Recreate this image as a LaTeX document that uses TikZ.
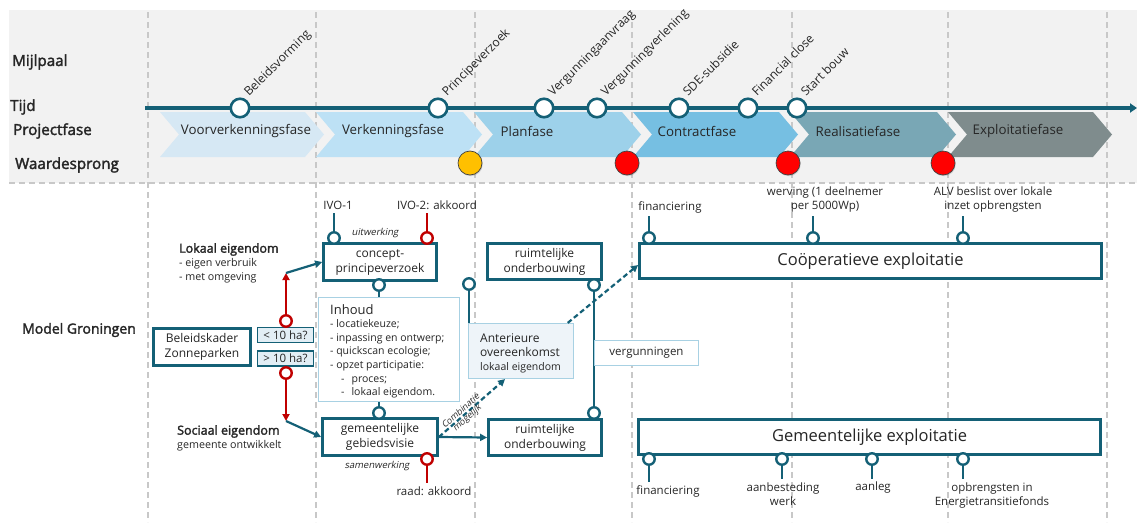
\documentclass[tikz,border=0pt]{standalone}
\usepackage{fontspec}
\setmainfont{Open Sans}[AutoFakeBold=2.2,AutoFakeSlant=0.2]
\usetikzlibrary{arrows.meta,calc,shadows}

\definecolor{tealdk}{RGB}{20,96,118}
\definecolor{redpin}{RGB}{192,0,0}
\definecolor{bandgray}{RGB}{242,242,242}
\definecolor{guidegray}{RGB}{200,200,200}
\definecolor{noteblue}{RGB}{168,209,227}
\definecolor{notefill}{RGB}{238,244,249}
\definecolor{hafill}{RGB}{226,238,245}
\definecolor{phaseA}{RGB}{214,232,244}
\definecolor{phaseB}{RGB}{189,225,245}
\definecolor{phaseC}{RGB}{157,209,234}
\definecolor{phaseD}{RGB}{118,191,226}
\definecolor{phaseE}{RGB}{121,167,181}
\definecolor{phaseF}{RGB}{127,140,141}
\definecolor{jumpyellow}{RGB}{255,192,0}
\definecolor{jumpred}{RGB}{255,0,0}
\definecolor{ink}{RGB}{38,38,38}

\newcommand\fsz[2]{\fontsize{#1pt}{#2pt}\selectfont}
% chevron of a project phase: left x, right x, colour
\newcommand\phasechevron[3]{%
  \fill[#3] (#1,112) -- (#2,112) -- ({#2+19},134.5) -- (#2,157) -- (#1,157) -- ({#1+19},134.5) -- cycle;}

\begin{document}
\begin{tikzpicture}[x=1pt,y=-1pt,
  every node/.style={text=ink},
  guide/.style={draw=guidegray,line width=1.1pt,dash pattern=on 6pt off 4pt},
  heading/.style={anchor=west,font=\fsz{15.2}{17}\bfseries,inner sep=0},
  phasetext/.style={font=\fsz{13.3}{15},inner sep=0},
  mstone/.style={circle,draw=tealdk,fill=white,line width=2.6pt,minimum size=18.5pt,inner sep=0},
  mlabel/.style={rotate=45,anchor=base west,inner sep=0,font=\fsz{12.1}{14}},
  jump/.style={circle,draw=black!75,line width=0.7pt,minimum size=24pt,inner sep=0,
    drop shadow={shadow xshift=0.8pt,shadow yshift=-1.2pt,opacity=0.3}},
  tbox/.style={draw=tealdk,line width=2.8pt,fill=white,align=center,inner sep=0,font=\fsz{12}{15}},
  habox/.style={draw=tealdk,line width=1.2pt,fill=hafill,minimum width=56pt,minimum height=15pt,inner sep=0,font=\fsz{11.5}{13}},
  note/.style={draw=noteblue,line width=1.2pt,fill=white,inner sep=0},
  knob/.style={circle,draw=tealdk,fill=white,line width=2.4pt,minimum size=11.5pt,inner sep=0},
  rknob/.style={knob,draw=redpin},
  link/.style={draw=tealdk,line width=2.2pt},
  rlink/.style={draw=redpin,line width=2.2pt},
  dlink/.style={link,dash pattern=on 5pt off 3pt},
  arr/.style={-{Triangle[length=7pt,width=7pt]}},
  plabel/.style={font=\fsz{11.5}{14.5},align=center,inner sep=3.5pt},
  tag/.style={font=\fsz{9.5}{11}\itshape,inner sep=0}
]
\useasboundingbox (0,0) rectangle (1137,522);

% grey band with milestones and phases
\fill[bandgray] (9,10) rectangle (1137,183);
\foreach \gx in {148,316,475,632,792,948,1107}
  \draw[guide] (\gx,12) -- (\gx,522);
\draw[guide] (9,183) -- (1137,183);

% row headings
\node[heading] (hmijl) at (12,62) {Mijlpaal};
\node[heading] (htijd) at (10,107) {Tijd};
\node[heading] (hfase) at (13,131) {Projectfase};
\node[heading] (hwaarde) at (15,165) {Waardesprong};
\node[heading,font=\fsz{14}{16}\bfseries] (hmodel) at (22,330) {Model Groningen};

% project phases
\phasechevron{160}{305}{phaseA}
\phasechevron{316}{463}{phaseB}
\phasechevron{474}{622}{phaseC}
\phasechevron{633}{779}{phaseD}
\phasechevron{790}{937}{phaseE}
\phasechevron{948}{1093}{phaseF}
\node[phasetext] (fase1) at (246,131) {Voorverkenningsfase};
\node[phasetext] (fase2) at (393,131) {Verkenningsfase};
\node[phasetext] (fase3) at (527,131) {Planfase};
\node[phasetext] (fase4) at (697,131) {Contractfase};
\node[phasetext] (fase5) at (858,131) {Realisatiefase};
\node[phasetext] (fase6) at (1018,131) {Exploitatiefase};

% time line with milestones
\coordinate (tl0) at (145,108);
\coordinate (tl1) at (1137,108);
\draw[tealdk,line width=3.5pt,-{Triangle[length=7pt,width=9pt]}] (tl0) -- (tl1);
\foreach \i/\mx/\txt in {1/240/Beleidsvorming,2/438/Principeverzoek,3/544/Vergunningaanvraag,
    4/597/Vergunningverlening,5/679/SDE-subsidie,6/748/Financial close,7/797/Start bouw}{
  \node[mstone] (ms\i) at (\mx,108) {};
  \node[mlabel] (ml\i) at ($(ms\i)+(9,-11)$) {\txt};
}

% value jumps
\node[jump,fill=jumpyellow] (ws1) at (470,163) {};
\node[jump,fill=jumpred] (ws2) at (627,163) {};
\node[jump,fill=jumpred] (ws3) at (788,163) {};
\node[jump,fill=jumpred] (ws4) at (943,163) {};

% policy framework and size split
\node[tbox,minimum width=97pt,minimum height=37pt] (bk) at (202,347) {Beleidskader\\Zonneparken};
\node[habox] (lt) at (285.5,335) {<~10 ha?};
\node[habox] (gt) at (285.5,358.5) {>~10 ha?};
\node[rknob] (rup) at (286,321) {};
\node[rknob] (rdn) at (286,373) {};
\coordinate (ltip) at (286,273);
\coordinate (stip) at (286,421);

\node[anchor=north west,align=left,inner sep=0,font=\fsz{10.7}{14}] (lok) at (179,243)
  {{\fsz{12.5}{14}\bfseries Lokaal eigendom}\\- eigen verbruik\\- met omgeving};
\node[anchor=north west,align=left,inner sep=0,font=\fsz{10.7}{14}] (soc) at (177,425)
  {{\fsz{12.5}{14}\bfseries Sociaal eigendom}\\gemeente ontwikkelt};

% concept request and area vision
\node[tbox,minimum width=113pt,minimum height=37pt] (cpv) at (380,262) {concept-\\principeverzoek};
\node[tbox,minimum width=115pt,minimum height=37pt] (ggv) at (380,437) {gemeentelijke\\gebiedsvisie};

\draw[rlink,arr] (rup) -- (ltip);
\draw[rlink,arr] (rdn) -- (stip);
\draw[link,arr] (ltip) -- (cpv.west);
\draw[link,arr] (stip) -- (ggv.west);

\node[knob] (ivo1p) at (334,238) {};
\node[rknob] (ivo2p) at (427,238) {};
\node[plabel] (ivo1l) at (338,205) {IVO-1};
\node[plabel] (ivo2l) at (437,205) {IVO-2: akkoord};
\draw[link] (ivo1p) -- (ivo1p |- ivo1l.south);
\draw[rlink] (ivo2p) -- (ivo2p |- ivo2l.south);
\node[tag] (uitw) at (375,233) {uitwerking};

\node[note,minimum width=141pt,minimum height=104pt] (inh) at (389,349.5) {};
\node[anchor=north west,align=left,inner sep=0,font=\fsz{10.5}{13.6}] (inhtxt) at (330,304)
  {{\fsz{13}{13.6}Inhoud}\\
   - locatiekeuze;\\
   - inpassing en ontwerp;\\
   - quickscan ecologie;\\
   - opzet participatie:\\
   \hspace*{11pt}-\hspace{7pt}proces;\\
   \hspace*{11pt}-\hspace{7pt}lokaal eigendom.};
\node[knob] (cpvb) at (379,285) {};
\node[knob] (ggvt) at (379,413) {};
\draw[link] (cpvb) -- (cpvb |- inh.north);
\draw[link] (inh.south -| ggvt) -- (ggvt);

\node[rknob] (raadp) at (427,459) {};
\node[plabel] (raadl) at (434,491) {raad: akkoord};
\draw[rlink] (raadp) -- (raadp |- raadl.north);
\node[tag] (samw) at (377,466) {samenwerking};

% spatial substantiation, agreement and permits
\node[tbox,minimum width=114pt,minimum height=36pt] (ro1) at (544.5,261.5) {ruimtelijke\\onderbouwing};
\node[tbox,minimum width=113pt,minimum height=36pt] (ro2) at (545,437.5) {ruimtelijke\\onderbouwing};
\node[knob] (ro1b) at (594,285) {};
\node[knob] (ro2t) at (594,413) {};
\draw[link] (ro1b) -- (ro2t);
\node[note,minimum width=104pt,minimum height=25pt,font=\fsz{11.5}{13}] (verg) at (646.5,353) {vergunningen};

\node[note,fill=notefill,minimum width=105pt,minimum height=55pt] (ant) at (521,351) {};
\node[anchor=north west,align=left,inner sep=0,font=\fsz{12}{14.4}] (anttxt) at (480,333)
  {Anterieure\\overeenkomst\\{\fsz{10.5}{14.4}lokaal eigendom}};
\node[knob] (antp) at (469,284) {};
\draw[link] (antp) -- (antp |- ant.north);

% exploitation options
\node[tbox,minimum width=462pt,minimum height=35pt,font=\fsz{16.5}{19}] (coop) at (870.5,261) {Coöperatieve exploitatie};
\node[tbox,minimum width=462pt,minimum height=35pt,font=\fsz{16.5}{19}] (gem) at (869.5,437) {Gemeentelijke exploitatie};

\draw[link,arr] (ggv.east) -- (ro2.west);
\coordinate (comb0) at (ggv.east);
\coordinate (comb1) at ($(ant.south west)!0.35!(ant.south east)$);
\draw[dlink,arr] (comb0) -- (comb1);
\node[font=\fsz{8.8}{9.5}\itshape,align=center,inner sep=0,rotate=41.7] (combl) at ($(comb0)!0.38!(comb1)$) {Combinatie\\mogelijk};
\draw[dlink,arr] ($(ant.north west)!0.94!(ant.north east)$) -- ($(coop.west)+(0,4)$);

\node[knob] (cp1) at (649,238) {};
\node[knob] (cp2) at (813,238) {};
\node[knob] (cp3) at (963,238) {};
\node[plabel] (cl1) at (670,207) {financiering};
\node[plabel] (cl2) at (825,199.5) {werving (1 deelnemer\\per 5000Wp)};
\node[plabel] (cl3) at (993,199.5) {ALV beslist over lokale\\inzet opbrengsten};
\draw[link] (cp1) -- (cp1 |- cl1.south);
\draw[link] (cp2) -- (cp2 |- cl2.south);
\draw[link] (cp3) -- (cp3 |- cl3.south);

\node[knob] (gp1) at (649,459) {};
\node[knob] (gp2) at (782,459) {};
\node[knob] (gp3) at (872,459) {};
\node[knob] (gp4) at (963,459) {};
\node[plabel] (gl1) at (668,491) {financiering};
\node[plabel] (gl2) at (783,494) {aanbesteding\\werk};
\node[plabel] (gl3) at (873,488) {aanleg};
\node[plabel] (gl4) at (992,495.5) {opbrengsten in\\Energietransitiefonds};
\draw[link] (gp1) -- (gp1 |- gl1.north);
\draw[link] (gp2) -- (gp2 |- gl2.north);
\draw[link] (gp3) -- (gp3 |- gl3.north);
\draw[link] (gp4) -- (gp4 |- gl4.north);
\end{tikzpicture}
\end{document}
